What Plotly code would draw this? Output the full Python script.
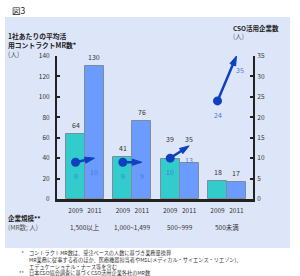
import plotly.graph_objects as go

# ---- data ----
groups = ["1,500以上", "1,000~1,499", "500~999", "500未満"]
years = ["2009", "2011"]
mr_2009 = [64, 41, 39, 18]
mr_2011 = [130, 76, 35, 17]
cso_2009 = [9, 9, 10, 24]
cso_2011 = [10, 9, 13, 35]
left_ticks = [0, 20, 40, 60, 80, 100, 120, 140]
right_ticks = [0, 5, 10, 15, 20, 25, 30, 35]

TEAL = "#33cccc"
BLUE = "#6b9bff"
LINE = "#0f40c0"
LBL = "#4a78d8"
FONT = "Noto Sans CJK JP"

# pixel -> paper helpers (plot area: x 57..253, y 56..199)
L, R, T, B = 57, 47, 56, 77
PW, PH = 300 - L - R, 276 - T - B
def px(x):
    return (x - L) / PW
def py(y):
    return (276 - B - y) / PH

W = 0.4
idx = list(range(len(groups)))

fig = go.Figure()
fig.add_trace(go.Bar(x=idx, y=mr_2009, offset=-W, width=W,
                     marker=dict(color=TEAL, line=dict(color="#7f8c9c", width=1))))
fig.add_trace(go.Bar(x=idx, y=mr_2011, offset=0, width=W,
                     marker=dict(color=BLUE, line=dict(color="#7f8c9c", width=1))))

annotations = []
# bar value labels (group 3 labels raised above the arrow, as in the original)
extra = {2: (11, 15)}
for i in idx:
    for k, (xv, yv) in enumerate([(i - W / 2, mr_2009[i]), (i + W / 2, mr_2011[i])]):
        annotations.append(dict(x=xv, y=yv, xref="x", yref="y", text=str(yv),
                                showarrow=False, yanchor="bottom",
                                yshift=2 + extra.get(i, (0, 0))[k],
                                font=dict(size=7, color="#333")))

for i in idx:
    fig.add_trace(go.Scatter(
        x=[i - W / 2, i + W / 2], y=[cso_2009[i], cso_2011[i]], yaxis="y2",
        mode="lines+markers", cliponaxis=False,
        line=dict(color=LINE, width=2.5),
        marker=dict(symbol="arrow", size=[0, 10], color=LINE, opacity=1,
                    line=dict(color=LINE, width=1), angleref="previous")))
    for k, (xv, yv) in enumerate([(i - W / 2, cso_2009[i]), (i + W / 2, cso_2011[i])]):
        annotations.append(dict(x=xv, y=yv, xref="x", yref="y2", text=str(yv),
                                showarrow=False, yshift=-14,
                                xshift=4 if (i == 3 and k == 1) else 0,
                                font=dict(size=7, color=LBL)))
# start dots
fig.add_trace(go.Scatter(x=[i - W / 2 for i in idx], y=cso_2009, yaxis="y2",
                         mode="markers", cliponaxis=False,
                         marker=dict(symbol="circle", size=9, color=LINE)))

for i, g in enumerate(groups):
    annotations.append(dict(x=i, y=py(227), xref="x", yref="paper", text=g,
                            showarrow=False, xanchor="center", yanchor="middle",
                            font=dict(size=6.5, color="#333")))

def txt(x, y, s, size=6.5, color="#222", xanchor="left", align="left"):
    annotations.append(dict(x=px(x), y=py(y), xref="paper", yref="paper", text=s,
                            showarrow=False, xanchor=xanchor, yanchor="middle",
                            align=align, font=dict(size=size, color=color)))

txt(10, 10, "図3", 8.5, "#222")
txt(6, 44.5, "<b>1社あたりの平均活</b><br><b>用コントラクトMR数*</b><br><span style='color:#555'>(人)</span>", 6.8)
txt(231, 32, "<b>CSO活用企業数</b><br><span style='color:#555'>(人)</span>", 6.5)
txt(6, 218, "<b>企業規模**</b>", 6.5)
txt(6, 227, "(MR数; 人)", 6.5, "#555")
foot = ["コントラクトMR数は、受注ベースの人数に基づき業務量換算",
        "MR業務に従事する者のほか、医療機器担当者やMSL(メディカル・サイエンス・リエゾン)、",
        "エデュケーショナル・ナース等を含む",
        "日本CSO協会調査に基づくCSO活用企業各社のMR数"]
txt(26, 262.6, "*<br>&#160;<br>&#160;<br>**", 5.2, "#333", xanchor="right", align="right")
txt(27, 262.6, "<br>".join(foot), 5.2, "#333")

unit = 47.33
lo = -(85 - L) / unit
hi = lo + PW / unit
tickv, tickt = [], []
for i in idx:
    tickv += [i - W / 2, i + W / 2]
    tickt += years

fig.update_layout(
    width=300, height=276, margin=dict(l=L, r=R, t=T, b=B),
    paper_bgcolor="white", plot_bgcolor="rgba(0,0,0,0)", showlegend=False,
    font=dict(family=FONT, color="#333"),
    bargap=0,
    xaxis=dict(range=[lo, hi], tickvals=tickv, ticktext=tickt, ticks="",
               showline=True, linecolor="#222", linewidth=2.5, showgrid=False,
               zeroline=False, tickfont=dict(size=6.5, color="#333"),
               ticklabelstandoff=3, fixedrange=True),
    yaxis=dict(range=[0, 140], tickvals=left_ticks, ticks="inside", ticklen=3,
               tickwidth=1.5, tickcolor="#222", showline=True, linecolor="#222",
               linewidth=2, showgrid=False, zeroline=False,
               tickfont=dict(size=6.5, color="#333"), ticklabelstandoff=4),
    yaxis2=dict(range=[0, 35], tickvals=right_ticks, overlaying="y", side="right",
                ticks="inside", ticklen=3, tickwidth=1.5, tickcolor="#222",
                showline=True, linecolor="#222", linewidth=2, showgrid=False,
                zeroline=False, tickfont=dict(size=6.5, color="#333"),
                ticklabelstandoff=1),
    annotations=annotations,
    shapes=[dict(type="rect", xref="paper", yref="paper", layer="below",
                 x0=px(5), x1=px(290), y0=py(248), y1=py(17),
                 fillcolor="#dde6f8", line=dict(width=0))],
)

fig.write_html("out.html")
